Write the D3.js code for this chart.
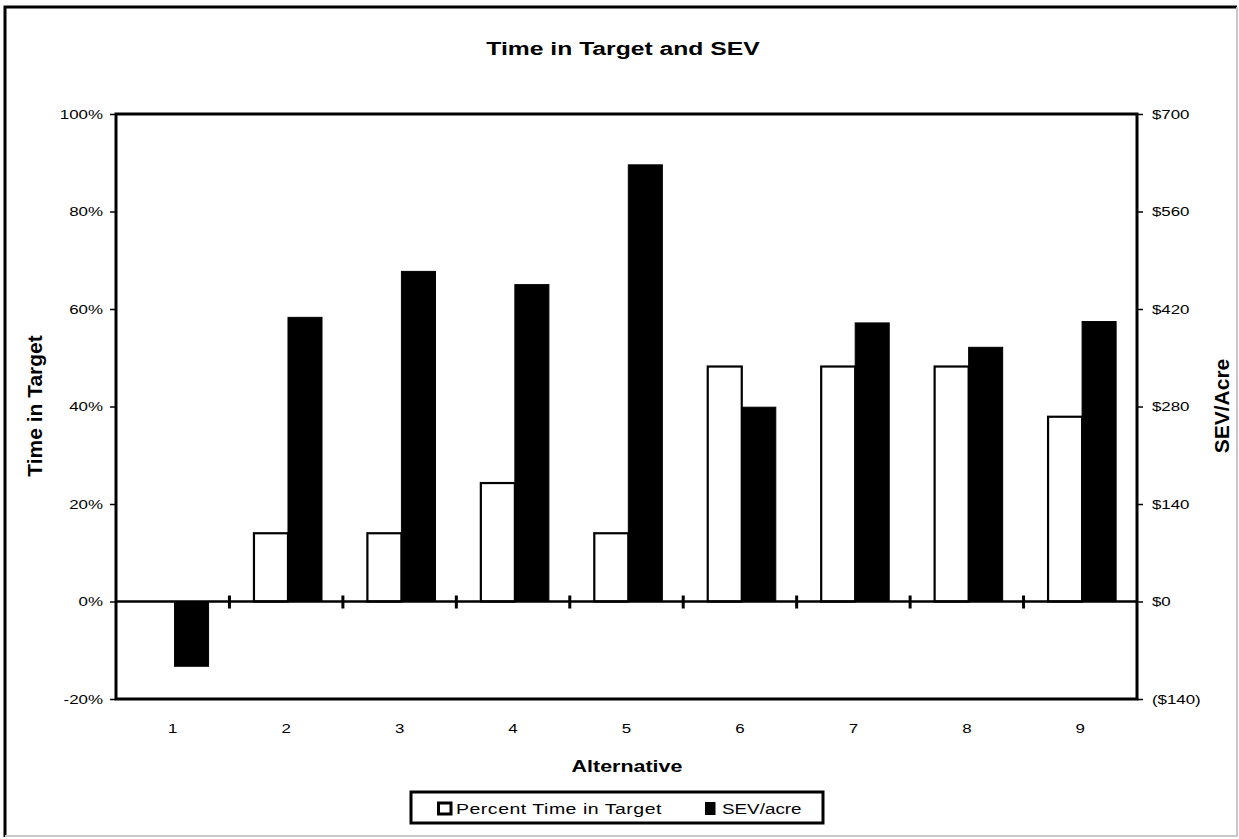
<!DOCTYPE html>
<html>
<head>
<meta charset="utf-8">
<script src="https://cdn.jsdelivr.net/npm/d3@7/dist/d3.min.js"></script>
<style>
  html, body { margin: 0; padding: 0; background: #fff; }
  svg { display: block; }
  text { font-family: "Liberation Sans", Arial, sans-serif; fill: #000; }
</style>
</head>
<body>
<svg id="chart" width="1239" height="839"></svg>
<script>
// Alternatives on the x axis
const categories = ["1", "2", "3", "4", "5", "6", "7", "8", "9"];
// Share of time in target (left axis)
const pctTimeInTarget = [0, 0.14, 0.14, 0.243, 0.14, 0.482, 0.482, 0.482, 0.379];
// Soil expectation value per acre, dollars (right axis)
const sevPerAcre = [-93, 408, 474, 455, 627, 279, 400, 365, 402];
// Axis tick values
const leftTicks = [-0.2, 0, 0.2, 0.4, 0.6, 0.8, 1.0];
const rightTicks = [-140, 0, 140, 280, 420, 560, 700];
const seriesNames = ["Percent Time in Target", "SEV/acre"];

const svg = d3.select("#chart");
const W = 1239, H = 839;
const plot = { left: 116, right: 1137, top: 114, bottom: 699 };
const SX = 1.3; // horizontal glyph stretch used for the Excel-style lettering

// frame around the whole chart
svg.append("rect").attr("width", W).attr("height", H).attr("fill", "#fff");
svg.append("path")
  .attr("d", `M5,837 L5,7 L1237,7`)
  .attr("fill", "none").attr("stroke", "#000").attr("stroke-width", 3);
svg.append("path")
  .attr("d", `M1237,7 L1237,836 L5,836`)
  .attr("fill", "none").attr("stroke", "#c8c8c8").attr("stroke-width", 2);

// scales
const x = d3.scaleBand().domain(categories).range([plot.left, plot.right]).padding(0);
const xs = d3.scaleBand().domain(["pct", "sev"]).range([0, x.bandwidth()])
  .paddingInner(0).paddingOuter(0.667).align(0.54);
const yL = d3.scaleLinear().domain([-0.2, 1.0]).range([plot.bottom, plot.top]);
const yR = d3.scaleLinear().domain([-140, 700]).range([plot.bottom, plot.top]);

// title
svg.append("text")
  .attr("transform", `translate(623,55) scale(${SX},1)`)
  .attr("text-anchor", "middle")
  .attr("font-size", 19).attr("font-weight", "bold")
  .text("Time in Target and SEV");

// bars: percent time in target (white, outlined)
const g = svg.append("g");
g.selectAll("rect.pct").data(categories).join("rect")
  .attr("class", "pct")
  .attr("x", (d) => x(d) + xs("pct"))
  .attr("width", xs.bandwidth())
  .attr("y", (d, i) => Math.min(yL(pctTimeInTarget[i]), yL(0)))
  .attr("height", (d, i) => Math.abs(yL(pctTimeInTarget[i]) - yL(0)))
  .attr("fill", "#fff").attr("stroke", "#000").attr("stroke-width", 2.2);

// bars: SEV per acre (solid black)
g.selectAll("rect.sev").data(categories).join("rect")
  .attr("class", "sev")
  .attr("x", (d) => x(d) + xs("sev"))
  .attr("width", xs.bandwidth())
  .attr("y", (d, i) => Math.min(yR(sevPerAcre[i]), yR(0)))
  .attr("height", (d, i) => Math.abs(yR(sevPerAcre[i]) - yR(0)))
  .attr("fill", "#000").attr("stroke", "#000").attr("stroke-width", 1);

// zero line with category separators
svg.append("line")
  .attr("x1", plot.left).attr("x2", plot.right)
  .attr("y1", yL(0)).attr("y2", yL(0))
  .attr("stroke", "#000").attr("stroke-width", 2.5);
svg.selectAll("line.sep").data(categories.slice(1)).join("line")
  .attr("class", "sep")
  .attr("x1", (d) => x(d)).attr("x2", (d) => x(d))
  .attr("y1", yL(0) - 6).attr("y2", yL(0) + 7)
  .attr("stroke", "#000").attr("stroke-width", 3);

// plot border
svg.append("rect")
  .attr("x", plot.left).attr("y", plot.top)
  .attr("width", plot.right - plot.left).attr("height", plot.bottom - plot.top)
  .attr("fill", "none").attr("stroke", "#000").attr("stroke-width", 3);

// left axis
const axL = svg.append("g").attr("transform", `translate(${plot.left},0)`)
  .call(d3.axisLeft(yL).tickValues(leftTicks).tickSizeInner(6).tickSizeOuter(0)
    .tickFormat((d) => Math.round(d * 100) + "%"));
axL.select(".domain").remove();
axL.selectAll(".tick line").attr("stroke-width", 1.5);
axL.selectAll(".tick text")
  .attr("x", -10).attr("font-size", 13)
  .attr("font-family", "'Liberation Sans', Arial, sans-serif")
  .attr("transform", `scale(${SX},1)`);

// right axis
const axR = svg.append("g").attr("transform", `translate(${plot.right},0)`)
  .call(d3.axisRight(yR).tickValues(rightTicks).tickSizeInner(6).tickSizeOuter(0)
    .tickFormat((d) => d < 0 ? "($" + (-d) + ")" : "$" + d));
axR.select(".domain").remove();
axR.selectAll(".tick line").attr("stroke-width", 1.5);
axR.selectAll(".tick text")
  .attr("x", 11.5).attr("font-size", 13)
  .attr("font-family", "'Liberation Sans', Arial, sans-serif")
  .attr("transform", `scale(${SX},1)`);

// category labels
const axB = svg.append("g").attr("transform", `translate(0,${plot.bottom})`)
  .call(d3.axisBottom(x).tickSize(0).tickPadding(25));
axB.select(".domain").remove();
axB.selectAll(".tick text")
  .attr("font-size", 13)
  .attr("font-family", "'Liberation Sans', Arial, sans-serif")
  .attr("transform", `scale(${SX},1)`);

// axis titles
svg.append("text")
  .attr("transform", `translate(627,772) scale(${SX},1)`)
  .attr("text-anchor", "middle")
  .attr("font-size", 16.5).attr("font-weight", "bold")
  .text("Alternative");
svg.append("text")
  .attr("transform", `translate(42,406) rotate(-90)`)
  .attr("text-anchor", "middle")
  .attr("font-size", 21).attr("font-weight", "bold")
  .text("Time in Target");
svg.append("text")
  .attr("transform", `translate(1229,406) rotate(-90)`)
  .attr("text-anchor", "middle")
  .attr("font-size", 21).attr("font-weight", "bold")
  .text("SEV/Acre");

// legend
const lg = svg.append("g");
lg.append("rect")
  .attr("x", 411).attr("y", 792).attr("width", 412).attr("height", 31)
  .attr("fill", "#fff").attr("stroke", "#000").attr("stroke-width", 3);
lg.append("rect")
  .attr("x", 438.5).attr("y", 803).attr("width", 12.5).attr("height", 11)
  .attr("fill", "#fff").attr("stroke", "#000").attr("stroke-width", 3);
lg.append("rect")
  .attr("x", 705).attr("y", 802).attr("width", 10.5).attr("height", 13)
  .attr("fill", "#000");
lg.append("text")
  .attr("transform", `translate(456,814) scale(${SX},1)`)
  .attr("font-size", 15)
  .attr("letter-spacing", 0.4)
  .text(seriesNames[0]);
lg.append("text")
  .attr("transform", `translate(722,814) scale(${SX},1)`)
  .attr("font-size", 14.5)
  .text(seriesNames[1]);
</script>
</body>
</html>
